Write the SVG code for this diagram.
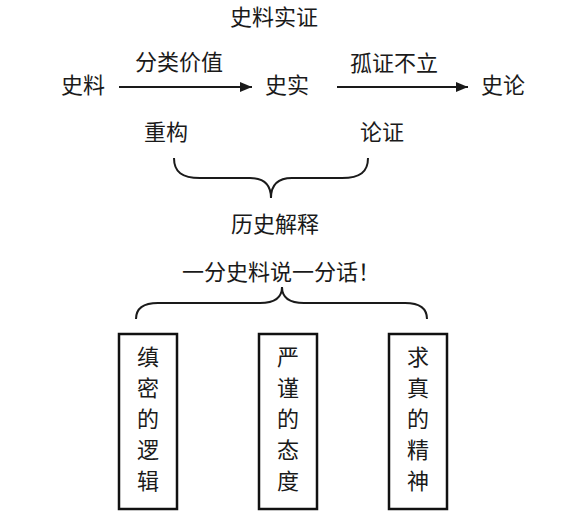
<svg xmlns="http://www.w3.org/2000/svg" width="578" height="519" viewBox="0 0 578 519">
<style>
text{font-family:"Noto Sans CJK SC","Noto Sans CJK JP",sans-serif;font-size:22px;fill:#1a1a1a;text-anchor:middle}
.c{fill:none;stroke:#1a1a1a;stroke-width:2}
.b{fill:#fff;stroke:#111;stroke-width:2.5}
</style>
<defs>
<marker id="ah" viewBox="0 0 12 10" refX="12" refY="5" markerWidth="12" markerHeight="10" markerUnits="userSpaceOnUse" orient="auto">
<path d="M0,0 L12,5 L0,10 Z" fill="#1a1a1a"/>
</marker>
</defs>
<rect width="578" height="519" fill="#fff"/>
<g id="title"><text x="274" y="25">史料实证</text></g>
<g id="n-shiliao"><text x="83" y="93">史料</text></g>
<g id="n-shishi"><text x="287" y="93">史实</text></g>
<g id="n-shilun"><text x="503" y="93">史论</text></g>
<g id="n-chonggou"><text x="166" y="140">重构</text></g>
<g id="n-lunzheng"><text x="382" y="140">论证</text></g>
<g id="n-jieshi"><text x="275" y="232">历史解释</text></g>
<g id="n-motto"><text x="281" y="280">一分史料说一分话！</text></g>
<g id="connectors">
<line class="c" x1="119" y1="87" x2="252" y2="87" marker-end="url(#ah)"/>
<text x="179" y="70">分类价值</text>
<line class="c" x1="337" y1="87" x2="468" y2="87" marker-end="url(#ah)"/>
<text x="394" y="71">孤证不立</text>
<path class="c" d="M174,158 C174,172 182,178 200,178 L250,178 C264,178 271,184 271,198 C271,184 278,178 292,178 L342,178 C360,178 368,172 368,158"/>
<path class="c" d="M136,319 C136,309 142,303 158,303 L260,303 C274,303 282,298 282,287 C282,298 290,303 304,303 L405,303 C421,303 427,309 427,319"/>
</g>
<g id="box1"><rect class="b" x="119" y="334" width="58" height="175"/>
<text x="148" y="365">缜</text><text x="148" y="396">密</text><text x="148" y="427">的</text><text x="148" y="458">逻</text><text x="148" y="489">辑</text></g>
<g id="box2"><rect class="b" x="259" y="334" width="58" height="175"/>
<text x="288" y="365">严</text><text x="288" y="396">谨</text><text x="288" y="427">的</text><text x="288" y="458">态</text><text x="288" y="489">度</text></g>
<g id="box3"><rect class="b" x="389" y="334" width="58" height="175"/>
<text x="418" y="365">求</text><text x="418" y="396">真</text><text x="418" y="427">的</text><text x="418" y="458">精</text><text x="418" y="489">神</text></g>
</svg>
